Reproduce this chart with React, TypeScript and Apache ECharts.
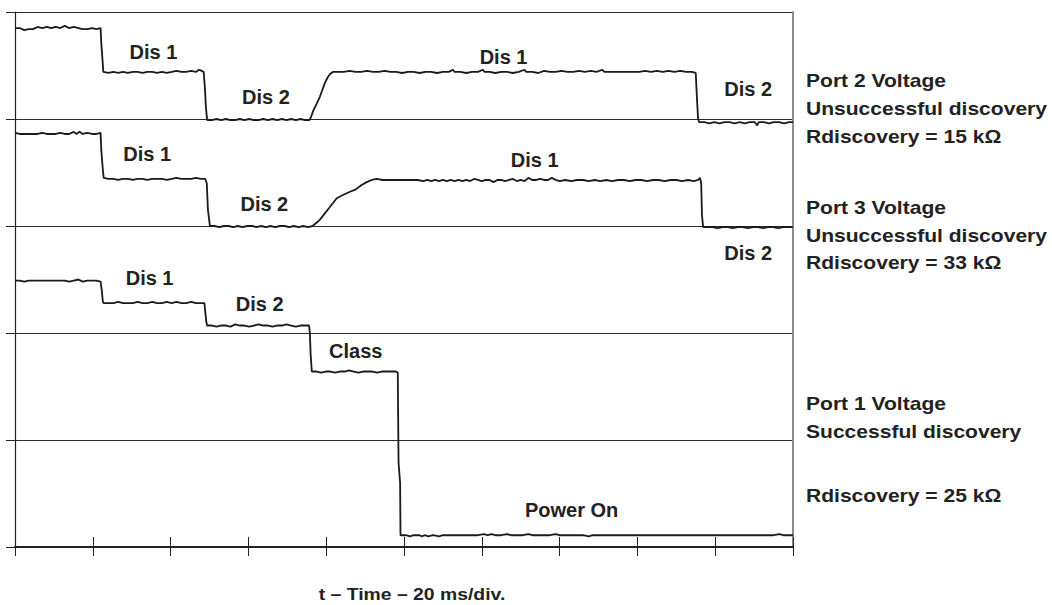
import { useEffect, useRef } from "react";
import * as echarts from "echarts";

// Time axis in ms (20 ms/div, 10 divisions); vertical axis in screen divisions.
const TIME_MIN = 0;
const TIME_MAX = 200;
const TIME_STEP = 20;
const DIV_MIN = 0;
const DIV_MAX = 5;

// Port 2 voltage trace: [time ms, divisions]
const port2: [number, number][] = [
  [0, 4.85], [1.2, 4.85], [2.4, 4.83], [3.5, 4.84], [4.6, 4.84], [5.8, 4.86], [7, 4.85], [8.2, 4.86],
  [9.3, 4.85], [10.5, 4.86], [11.6, 4.85], [12.8, 4.87], [13.9, 4.85], [15.1, 4.86], [16.3, 4.85],
  [17.4, 4.84], [18.6, 4.84], [19.8, 4.85], [20.9, 4.84], [22.0, 4.85],
  [22.2, 4.7], [22.5, 4.55], [22.7, 4.44],
  [24, 4.43], [25.3, 4.44], [26.5, 4.43], [27.8, 4.44], [29, 4.43], [30.3, 4.44], [31.5, 4.44],
  [32.8, 4.43], [34, 4.44], [35.3, 4.44], [36.5, 4.43], [37.8, 4.44], [39, 4.43], [40.3, 4.44],
  [41.5, 4.45], [42.8, 4.44], [44, 4.44], [45.3, 4.45], [46.5, 4.44], [47.3, 4.46], [48.0, 4.45], [48.5, 4.44],
  [48.8, 4.3], [49.1, 4.1], [49.4, 3.99],
  [50.6, 3.99], [51.8, 4.0], [53, 3.99], [54.2, 4.0], [55.4, 3.99], [56.6, 3.99], [57.8, 4.0], [59, 3.99],
  [60.2, 4.0], [61.4, 3.99], [62.6, 3.99], [63.8, 4.0], [65, 3.99], [66.2, 4.0], [67.4, 3.99], [68.6, 4.0],
  [69.8, 3.99], [71, 4.0], [72.2, 3.99], [73.4, 4.0], [74.6, 3.99], [75.7, 3.99],
  [76.1, 4.02], [76.7, 4.08], [77.5, 4.14], [78.4, 4.21], [79.1, 4.28], [79.7, 4.34], [80.4, 4.39],
  [81.0, 4.42], [81.7, 4.44],
  [83, 4.44], [84.5, 4.44], [86, 4.45], [87.5, 4.44], [89, 4.44], [90.5, 4.45], [92, 4.44], [93.5, 4.44],
  [95, 4.45], [96.5, 4.44], [98, 4.44], [99.5, 4.43], [101, 4.44], [102.5, 4.44], [104, 4.43], [105.5, 4.44],
  [107, 4.44], [108.5, 4.43], [110, 4.44], [111.5, 4.44], [112.6, 4.46], [113, 4.44], [114.5, 4.44],
  [116, 4.43], [117.5, 4.44], [119, 4.44], [120.3, 4.46], [120.7, 4.44], [122, 4.44], [123.5, 4.43],
  [125, 4.44], [126.5, 4.44], [128, 4.43], [129.5, 4.44], [131, 4.46], [131.4, 4.44], [133, 4.44],
  [134.5, 4.43], [136, 4.45], [137.5, 4.44], [139, 4.44], [140.5, 4.45], [142, 4.44], [143.5, 4.44],
  [145, 4.45], [146.5, 4.44], [148, 4.45], [149.5, 4.44], [151, 4.46], [151.5, 4.44], [153, 4.44],
  [154.5, 4.44], [156, 4.44], [157.5, 4.44], [159, 4.44], [160.5, 4.44], [162, 4.45], [163.5, 4.44],
  [165, 4.45], [166.5, 4.44], [168, 4.45], [169.5, 4.44], [171, 4.45], [172.5, 4.44], [174, 4.44], [175.0, 4.43],
  [175.3, 4.2], [175.6, 4.0], [175.9, 3.97],
  [177.2, 3.97], [178.5, 3.96], [179.8, 3.97], [181.1, 3.96], [182.4, 3.97], [183.7, 3.97], [185, 3.96],
  [186.3, 3.97], [187.6, 3.96], [188.9, 3.97], [190.2, 3.97], [190.8, 3.94], [191.2, 3.97], [192.5, 3.97],
  [193.8, 3.96], [195.1, 3.97], [196.4, 3.97], [197.7, 3.96], [199, 3.97], [200, 3.97],
];

// Port 3 voltage trace
const port3: [number, number][] = [
  [0, 3.87], [1.2, 3.86], [2.4, 3.86], [3.5, 3.86], [4.6, 3.86], [5.8, 3.86], [7, 3.87], [8.2, 3.86],
  [9.3, 3.86], [10.5, 3.86], [11.6, 3.87], [12.8, 3.86], [13.9, 3.86], [15.1, 3.88], [15.8, 3.86],
  [16.6, 3.88], [17.4, 3.86], [18.6, 3.87], [19.8, 3.86], [20.9, 3.86], [22.0, 3.87],
  [22.2, 3.7], [22.6, 3.52], [22.8, 3.45],
  [24, 3.44], [25.3, 3.44], [26.5, 3.43], [27.8, 3.44], [29, 3.44], [30.3, 3.43], [31.5, 3.44],
  [32.8, 3.44], [34, 3.43], [35.3, 3.44], [36.5, 3.44], [37.8, 3.44], [39, 3.43], [40.3, 3.44],
  [41.5, 3.45], [42.8, 3.44], [44, 3.44], [45.3, 3.44], [46.5, 3.45], [47.8, 3.44], [48.9, 3.44],
  [49.3, 3.4], [49.6, 3.15], [50.1, 3.0],
  [51.3, 3.0], [52.5, 2.99], [53.7, 3.0], [54.9, 3.0], [56.1, 2.99], [57.3, 3.0], [58.5, 2.99],
  [59.7, 3.0], [60.9, 3.0], [62.1, 2.99], [63.3, 3.0], [64.5, 2.99], [65.7, 3.0], [66.9, 2.99],
  [68.1, 3.0], [69.3, 3.0], [70.5, 2.99], [71.7, 3.0], [72.9, 2.99], [74.1, 3.0], [75.3, 2.99], [76.5, 3.0],
  [77.5, 3.03], [78.4, 3.06], [79.7, 3.12], [81.0, 3.18], [82.7, 3.26], [84.3, 3.29], [86.1, 3.32],
  [87.5, 3.34], [89.0, 3.38], [90.4, 3.41], [91.7, 3.43], [93.0, 3.44],
  [94.5, 3.43], [96, 3.43], [97.5, 3.43], [99, 3.43], [100.5, 3.43], [102, 3.43], [103.5, 3.43],
  [105, 3.42], [106, 3.43], [107, 3.42], [108, 3.43], [109, 3.42], [110, 3.43], [111, 3.42], [112, 3.43],
  [113, 3.42], [114, 3.43], [115, 3.42], [116, 3.43], [117, 3.42], [118, 3.44], [119, 3.43], [120, 3.42],
  [121, 3.43], [122, 3.43], [123, 3.41], [124, 3.43], [125, 3.43], [126, 3.42], [127, 3.43], [128, 3.44],
  [129, 3.42], [130, 3.43], [131, 3.42], [132, 3.45], [133, 3.43], [134, 3.43], [135, 3.44], [136, 3.43],
  [137, 3.43], [138, 3.45], [139, 3.43], [140, 3.42], [141.5, 3.43], [143, 3.42], [144.5, 3.43],
  [146, 3.43], [147.5, 3.42], [149, 3.43], [150.5, 3.42], [152, 3.43], [153.5, 3.42], [155, 3.43],
  [156.5, 3.43], [158, 3.42], [159.5, 3.43], [161, 3.43], [162.5, 3.42], [164, 3.43], [165.5, 3.43],
  [167, 3.42], [168.5, 3.43], [170, 3.43], [171.5, 3.42], [173, 3.43], [174.5, 3.42], [175.6, 3.43], [176.1, 3.45],
  [176.4, 3.4], [176.6, 3.1], [176.9, 2.99],
  [178, 2.99], [179.3, 2.99], [180.6, 2.98], [181.9, 2.99], [183.2, 2.99], [184.5, 2.98], [185.8, 2.99],
  [187.1, 2.99], [188.4, 2.98], [189.7, 2.99], [191, 2.99], [192.3, 2.98], [193.6, 2.99], [194.9, 2.99],
  [196.2, 2.98], [197.5, 2.99], [198.8, 2.99], [200, 2.99],
];

// Port 1 voltage trace
const port1: [number, number][] = [
  [0, 2.49], [1.2, 2.49], [2.4, 2.48], [3.5, 2.49], [4.6, 2.49], [5.8, 2.49], [7, 2.49], [8.2, 2.49],
  [9.3, 2.49], [10.5, 2.49], [11.6, 2.49], [12.8, 2.49], [13.9, 2.48], [15.1, 2.49], [16.3, 2.5],
  [17.4, 2.48], [18.6, 2.49], [19.8, 2.49], [20.9, 2.49], [22.0, 2.48],
  [22.3, 2.4], [22.6, 2.29], [22.8, 2.28],
  [24, 2.28], [25.3, 2.28], [26.5, 2.29], [27.8, 2.28], [29, 2.28], [30.3, 2.28], [31.5, 2.29],
  [32.8, 2.28], [34, 2.28], [35.3, 2.29], [36.5, 2.28], [37.8, 2.28], [39, 2.29], [40.3, 2.28],
  [41.5, 2.29], [42.8, 2.28], [44, 2.28], [45.3, 2.29], [46.5, 2.28], [47.8, 2.28], [48.7, 2.28],
  [48.9, 2.2], [49.2, 2.1], [49.4, 2.07],
  [50.6, 2.07], [51.8, 2.06], [53, 2.07], [54.2, 2.07], [55.4, 2.06], [56.6, 2.08], [57.8, 2.07],
  [59, 2.07], [60.2, 2.06], [61.4, 2.07], [62.6, 2.08], [63.8, 2.07], [65, 2.07], [66.2, 2.06],
  [67.4, 2.07], [68.6, 2.07], [69.8, 2.08], [71, 2.07], [72.2, 2.06], [73.4, 2.07], [74.6, 2.07], [75.6, 2.07],
  [75.8, 2.0], [76.0, 1.8], [76.3, 1.64],
  [77.5, 1.64], [78.7, 1.63], [79.9, 1.64], [81.1, 1.64], [82.3, 1.63], [83.5, 1.64], [84.7, 1.64],
  [85.9, 1.65], [87.1, 1.64], [88.3, 1.63], [89.5, 1.64], [90.7, 1.64], [91.9, 1.64], [93.1, 1.63],
  [94.3, 1.64], [95.5, 1.64], [96.7, 1.64], [97.9, 1.64], [98.4, 1.63],
  [98.6, 0.79], [99.0, 0.6], [99.1, 0.11],
  [100.5, 0.11], [101.5, 0.1], [102.5, 0.11], [104, 0.11], [104.5, 0.1], [105.5, 0.11], [106.2, 0.1],
  [107.5, 0.11], [109, 0.1], [110, 0.11], [111.5, 0.11], [113, 0.11], [114.5, 0.11], [116, 0.11],
  [117.5, 0.11], [119, 0.11], [120.5, 0.12], [121.5, 0.11], [122.5, 0.12], [123.5, 0.11], [125, 0.11],
  [126.5, 0.12], [127.5, 0.11], [129, 0.11], [130.5, 0.11], [132, 0.12], [133, 0.11], [134.5, 0.11],
  [136, 0.11], [137.5, 0.11], [139, 0.12], [140, 0.11], [141.5, 0.11], [143, 0.11], [144.5, 0.11],
  [146, 0.11], [147.5, 0.1], [148.5, 0.11], [150, 0.11], [151.5, 0.11], [153, 0.11], [154.5, 0.11],
  [156, 0.11], [157.5, 0.11], [159, 0.11], [160.5, 0.11], [162, 0.11], [163.5, 0.11], [165, 0.11],
  [166.5, 0.11], [168, 0.11], [169.5, 0.11], [171, 0.11], [172.5, 0.11], [174, 0.11], [175.5, 0.11],
  [177, 0.11], [178.5, 0.11], [180, 0.11], [181.5, 0.11], [183, 0.11], [184.5, 0.11], [186, 0.11],
  [187.5, 0.11], [189, 0.11], [190.5, 0.11], [192, 0.11], [193.5, 0.11], [195, 0.11], [196.5, 0.12],
  [197.5, 0.11], [199, 0.11], [200, 0.11],
];

// Phase annotations placed in data coordinates: [text, time ms, divisions]
const phaseLabels: [string, number, number][] = [
  ["Dis 1", 35.6, 4.63],
  ["Dis 2", 64.5, 4.21],
  ["Dis 1", 125.6, 4.58],
  ["Dis 2", 188.5, 4.28],
  ["Dis 1", 34.0, 3.67],
  ["Dis 2", 64.1, 3.21],
  ["Dis 1", 133.6, 3.62],
  ["Dis 2", 188.5, 2.75],
  ["Dis 1", 34.6, 2.51],
  ["Dis 2", 62.9, 2.27],
  ["Class", 87.6, 1.83],
  ["Power On", 143.1, 0.35],
];

// Trace descriptions at the right of the plot (one block per trace)
const portNotes: string[][] = [
  ["Port 2 Voltage", "Unsuccessful discovery", "Rdiscovery = 15 k\u03A9"],
  ["Port 3 Voltage", "Unsuccessful discovery", "Rdiscovery = 33 k\u03A9"],
  ["Port 1 Voltage", "Successful discovery", "Rdiscovery = 25 k\u03A9"],
];

const timeAxisTitle = "t \u2013 Time \u2013 20 ms/div.";

const INK = "#222222";
const FAMILY = '"Liberation Sans", Arial, Helvetica, sans-serif';

export default function App() {
  const ref = useRef<HTMLDivElement | null>(null);

  useEffect(() => {
    if (!ref.current) return;
    const chart = echarts.init(ref.current, undefined, { renderer: "svg" });

    const traceSeries = [port2, port3, port1].map((data) => ({
      type: "line",
      data,
      showSymbol: false,
      symbol: "none",
      xAxisIndex: 0,
      yAxisIndex: 0,
      lineStyle: { color: "#1a1a1a", width: 1.8 },
      silent: true,
      z: 3,
    }));

    chart.setOption({
      animation: false,
      backgroundColor: "#ffffff",
      grid: { left: 15, right: 259, top: 12, bottom: 58, containLabel: false },
      xAxis: [
        {
          type: "value",
          min: TIME_MIN,
          max: TIME_MAX,
          interval: TIME_STEP,
          position: "bottom",
          axisLine: { show: true, onZero: false, lineStyle: { color: "#222", width: 2 } },
          axisTick: { show: true, inside: true, length: 10, lineStyle: { color: "#222", width: 1 } },
          axisLabel: { show: false },
          splitLine: { show: false },
        },
        {
          type: "value",
          min: TIME_MIN,
          max: TIME_MAX,
          interval: TIME_STEP,
          position: "bottom",
          axisLine: { show: false, onZero: false },
          axisTick: { show: true, inside: false, length: 9, lineStyle: { color: "#222", width: 1 } },
          axisLabel: { show: false },
          splitLine: { show: false },
        },
      ],
      yAxis: [
        {
          type: "value",
          min: DIV_MIN,
          max: DIV_MAX,
          interval: 1,
          position: "left",
          axisLine: { show: true, onZero: false, lineStyle: { color: "#222", width: 1.2 } },
          axisTick: { show: true, inside: false, length: 9, lineStyle: { color: "#222", width: 1 } },
          axisLabel: { show: false },
          splitLine: { show: true, lineStyle: { color: "#2a2a2a", width: 1 } },
        },
        {
          type: "value",
          min: DIV_MIN,
          max: DIV_MAX,
          interval: 1,
          position: "right",
          axisLine: { show: true, onZero: false, lineStyle: { color: "#8c8c8c", width: 2 } },
          axisTick: { show: false },
          axisLabel: { show: false },
          splitLine: { show: false },
        },
      ],
      series: traceSeries,
    });

    const toPx = (t: number, v: number) =>
      chart.convertToPixel({ xAxisIndex: 0, yAxisIndex: 0 }, [t, v]) as number[];

    const textEl = (
      text: string,
      x: number,
      y: number,
      align: string,
      size: number,
      stretch: number
    ) => ({
      type: "text",
      x,
      y,
      scaleX: stretch,
      silent: true,
      z: 10,
      style: {
        text,
        font: `bold ${size}px ${FAMILY}`,
        fill: INK,
        align,
        verticalAlign: "middle",
      },
    });

    const graphics: any[] = [];

    phaseLabels.forEach(([text, t, v]) => {
      const p = toPx(t, v);
      graphics.push(textEl(text, p[0], p[1], "center", 20, 1));
    });

    const noteLineYs = [
      [81, 109, 137],
      [208, 236, 263],
      [404, 432, 496],
    ];
    portNotes.forEach((lines, i) => {
      lines.forEach((line, j) => {
        graphics.push(textEl(line, 806, noteLineYs[i][j], "left", 18, 1.17));
      });
    });

    graphics.push(textEl(timeAxisTitle, 412, 594, "center", 17, 1.14));

    chart.setOption({ graphic: graphics });

    return () => {
      chart.dispose();
    };
  }, []);

  return (
    <div
      ref={ref}
      style={{ position: "fixed", left: 0, top: 0, width: 1052, height: 605, background: "#fff" }}
    />
  );
}
